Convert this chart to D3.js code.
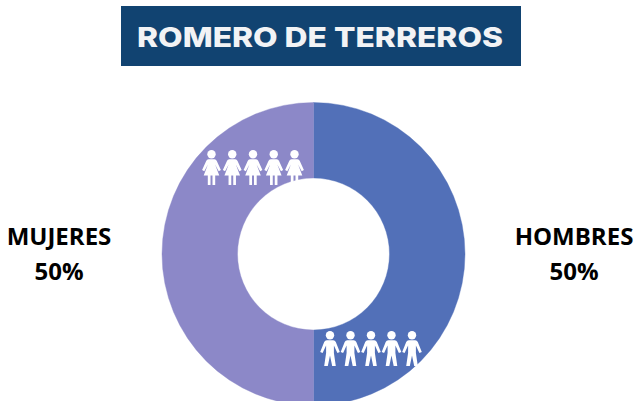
<!DOCTYPE html>
<html>
<head>
<meta charset="utf-8">
<script src="https://cdn.jsdelivr.net/npm/d3@7"></script>
<style>
    html, body { margin: 0; padding: 0; background: #fff; overflow: hidden; }
    svg { display: block; }
    .title { font-family: Inter, "Open Sans", sans-serif; font-weight: 800; font-size: 27.5px; fill: #f2f3f5; }
    .label { font-family: "Open Sans", sans-serif; font-weight: 700; font-size: 24px; fill: #000; text-anchor: middle; }
</style>
</head>
<body>
<svg id="chart" width="635" height="401"></svg>
<script>
    const titleText = 'ROMERO DE TERREROS';
    const categories = ['HOMBRES', 'MUJERES'];
    const shares = [50, 50];
    const sliceColors = ['#5270b8', '#8c88c8'];
    const iconsPerSlice = [5, 5];

    const svg = d3.select('#chart');

    // title banner
    svg.append('rect')
        .attr('x', 121).attr('y', 6)
        .attr('width', 400).attr('height', 60)
        .attr('fill', '#114371');

    svg.append('text')
        .attr('class', 'title')
        .attr('x', 137).attr('y', 47)
        .attr('textLength', 366)
        .attr('lengthAdjust', 'spacingAndGlyphs')
        .text(titleText);

    // donut
    const cx = 313.5, cy = 254;
    const pie = d3.pie().sort(null).value(d => d);
    const arc = d3.arc().innerRadius(76).outerRadius(151.5);

    const g = svg.append('g').attr('transform', 'translate(' + cx + ',' + cy + ')');

    // stroke only there to close the hairline between the two slices
    g.selectAll('path')
        .data(pie(shares))
        .enter().append('path')
        .attr('d', arc)
        .attr('fill', (d, i) => sliceColors[i])
        .attr('stroke', (d, i) => sliceColors[i])
        .attr('stroke-width', 0.4);

    // labels either side
    const labelX = d3.scaleOrdinal().domain(categories).range([574, 59]);

    categories.forEach((c, i) => {
        svg.append('text').attr('class', 'label')
            .attr('x', labelX(c)).attr('y', 245).text(c);
        svg.append('text').attr('class', 'label')
            .attr('x', labelX(c)).attr('y', 280).text(shares[i] + '%');
    });

    // little people, drawn from origin at top of head, height about 35
    const manPath = 'M-3.2,9.2 L3.2,9.2 Q5,9.2 5.8,11 L9.8,21 L7.4,22 L3.9,14.5 L3.9,22 L5.8,35 L2.2,35 L0,24.5 L-2.2,35 L-5.8,35 L-3.9,22 L-3.9,14.5 L-7.4,22 L-9.8,21 L-5.8,11 Q-5,9.2 -3.2,9.2 Z';
    const womanPath = 'M-3,9.2 L3,9.2 Q4.6,9.2 5.3,11 L9.4,20 L7.2,21.2 L3.6,14.6 L7.8,25.5 L3.7,25.5 L3.7,35 L1,35 L1,25.5 L-1,25.5 L-1,35 L-3.7,35 L-3.7,25.5 L-7.8,25.5 L-3.6,14.6 L-7.2,21.2 L-9.4,20 L-5.3,11 Q-4.6,9.2 -3,9.2 Z';

    const drawPeople = (count, range, top, shape) => {
        const x = d3.scalePoint().domain(d3.range(count)).range(range);
        const people = svg.append('g').selectAll('g')
            .data(d3.range(count))
            .enter().append('g')
            .attr('transform', d => 'translate(' + x(d) + ',' + top + ')')
            .attr('fill', '#fff');
        people.append('circle').attr('cy', 4.2).attr('r', 4.2);
        people.append('path').attr('d', shape);
    };

    drawPeople(iconsPerSlice[0], [330, 412], 331, manPath);
    drawPeople(iconsPerSlice[1], [211.5, 294.5], 150, womanPath);
</script>
</body>
</html>
